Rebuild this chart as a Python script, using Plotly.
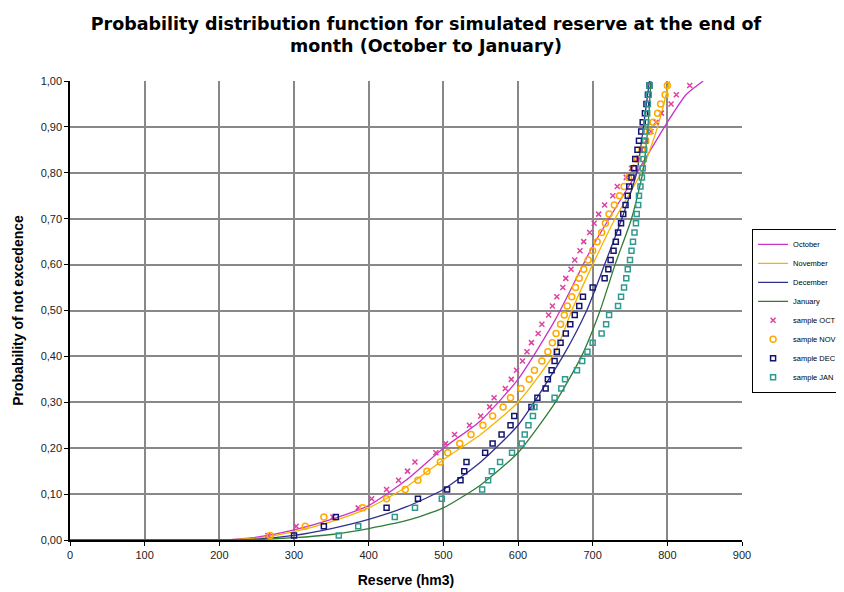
import plotly.graph_objects as go

# ---- fitted distribution curves ----
oct_x = [0, 200, 250, 300, 350, 400, 450, 500, 550, 600, 650, 700, 750, 800, 825, 848]
oct_y = [0, 0, 0.006, 0.022, 0.045, 0.075, 0.13, 0.20, 0.26, 0.35, 0.48, 0.64, 0.775, 0.91, 0.97, 1.0]

nov_x = [0, 200, 250, 300, 350, 400, 450, 500, 550, 600, 650, 672, 700, 730, 765, 787, 803]
nov_y = [0, 0, 0.004, 0.018, 0.04, 0.07, 0.115, 0.175, 0.23, 0.30, 0.41, 0.50, 0.60, 0.70, 0.80, 0.90, 1.0]

dec_x = [0, 200, 250, 300, 350, 400, 450, 500, 550, 600, 660, 692, 716, 739, 759, 768, 776]
dec_y = [0, 0, 0.002, 0.01, 0.025, 0.045, 0.072, 0.11, 0.17, 0.25, 0.40, 0.50, 0.60, 0.70, 0.80, 0.90, 1.0]

jan_x = [0, 200, 250, 300, 350, 400, 450, 500, 550, 600, 650, 685, 710, 730, 752, 767, 774, 778]
jan_y = [0, 0, 0.001, 0.005, 0.012, 0.025, 0.042, 0.07, 0.12, 0.19, 0.30, 0.40, 0.50, 0.60, 0.70, 0.80, 0.90, 1.0]

# ---- samples (empirical probabilities) ----
sample_prob = [0.01, 0.03, 0.05, 0.07, 0.09, 0.11, 0.13, 0.15, 0.17, 0.19,
               0.21, 0.23, 0.25, 0.27, 0.29, 0.31, 0.33, 0.35, 0.37, 0.39,
               0.41, 0.43, 0.45, 0.47, 0.49, 0.51, 0.53, 0.55, 0.57, 0.59,
               0.61, 0.63, 0.65, 0.67, 0.69, 0.71, 0.73, 0.75, 0.77, 0.79,
               0.81, 0.83, 0.85, 0.87, 0.89, 0.91, 0.93, 0.95, 0.97, 0.99]

oct_sample = [265, 303, 352, 386, 404, 424, 440, 452, 462, 490,
              503, 515, 535, 550, 562, 568, 583, 591, 598, 606,
              612, 618, 627, 632, 641, 646, 652, 660, 664, 671,
              676, 683, 688, 696, 702, 708, 716, 727, 733, 745,
              752, 760, 765, 772, 778, 785, 792, 805, 812, 830]

nov_sample = [268, 315, 340, 392, 424, 449, 466, 478, 496, 506,
              522, 537, 553, 566, 580, 590, 604, 615, 622, 632,
              640, 646, 651, 657, 662, 666, 672, 677, 682, 688,
              694, 700, 706, 712, 717, 722, 729, 736, 742, 748,
              755, 760, 766, 771, 776, 781, 787, 791, 797, 800]

dec_sample = [300, 340, 356, 424, 466, 505, 523, 528, 531, 556,
              566, 578, 590, 595, 618, 626, 637, 640, 645, 649,
              652, 657, 664, 670, 676, 682, 687, 700, 716, 721,
              724, 728, 731, 734, 738, 741, 744, 747, 749, 752,
              755, 757, 760, 762, 765, 767, 770, 772, 774, 776]

jan_sample = [360, 386, 435, 462, 498, 552, 560, 565, 576, 592,
              605, 609, 614, 620, 622, 649, 658, 663, 679, 686,
              693, 700, 712, 718, 722, 734, 738, 742, 745, 747,
              750, 752, 754, 756, 758, 759, 761, 762, 764, 766,
              767, 768, 769, 770, 771, 772, 773, 774, 775, 776]

x_ticks = [0, 100, 200, 300, 400, 500, 600, 700, 800, 900]
y_ticks = [0.0, 0.1, 0.2, 0.3, 0.4, 0.5, 0.6, 0.7, 0.8, 0.9, 1.0]

fig = go.Figure()

curves = [
    ("October", oct_x, oct_y, "#c832c8"),
    ("November", nov_x, nov_y, "#f5b400"),
    ("December", dec_x, dec_y, "#30308c"),
    ("January", jan_x, jan_y, "#2e7d32"),
]
for name, xs, ys, col in curves:
    fig.add_trace(go.Scatter(x=xs, y=ys, mode="lines", name=name,
                             line=dict(color=col, width=1.3, shape="spline", smoothing=0.6)))

samples = [
    ("sample OCT", oct_sample, "#e040a0", "x-thin-open", 5),
    ("sample NOV", nov_sample, "#ffaa00", "circle-open", 6),
    ("sample DEC", dec_sample, "#141470", "square-open", 5),
    ("sample JAN", jan_sample, "#2f9a90", "square-open", 5),
]
for name, xs, col, sym, sz in samples:
    fig.add_trace(go.Scatter(x=xs, y=sample_prob, mode="markers", name=name,
                             marker=dict(symbol=sym, size=sz, color=col,
                                         line=dict(color=col, width=1.5))))

fig.update_layout(
    width=836, height=584,
    margin=dict(l=62, r=102, t=73, b=52, autoexpand=False),
    paper_bgcolor="white", plot_bgcolor="white",
    separators=", ",
    title=dict(text="Probability distribution function for simulated reserve at the end of<br>month (October to January)",
               x=0.5, xanchor="center", y=0.963, yanchor="top",
               font=dict(family="DejaVu Sans", size=17.5, color="black", weight="bold")),
    font=dict(family="Arial", size=11, color="#222"),
    legend=dict(x=1.015, y=0.678, xanchor="left", yanchor="top",
                bordercolor="black", borderwidth=1, bgcolor="white",
                font=dict(family="Arial", size=7.5, color="black"),
                itemwidth=30, tracegroupgap=0),
    showlegend=True,
)
fig.update_xaxes(range=[0, 900], tickvals=x_ticks, ticktext=[str(v) for v in x_ticks],
                 showgrid=True, gridcolor="#888888", gridwidth=1.5,
                 showline=True, linecolor="black", linewidth=1.5,
                 ticks="outside", ticklen=4, tickcolor="black", zeroline=False,
                 automargin=False,
                 title=dict(text="<b>Reserve (hm3)</b>", font=dict(family="Arial", size=14, color="black"),
                            standoff=15),
                 tickfont=dict(family="Arial", size=11, color="#222"))
fig.update_yaxes(range=[0, 1.0], tickvals=y_ticks, tickformat=".2f",
                 showgrid=True, gridcolor="#888888", gridwidth=1.5,
                 showline=True, linecolor="black", linewidth=1.5,
                 ticks="outside", ticklen=4, tickcolor="black", zeroline=False,
                 automargin=False,
                 title=dict(text="<b>Probability of not excedence</b>", font=dict(family="Arial", size=14, color="black"),
                            standoff=14),
                 tickfont=dict(family="Arial", size=11, color="#222"))

fig.write_html("out.html")
